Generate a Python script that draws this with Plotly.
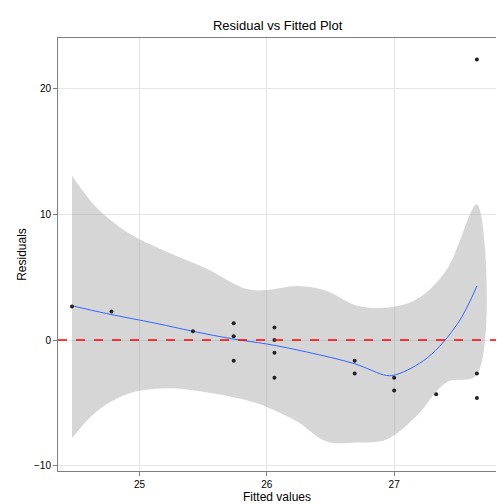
import plotly.graph_objects as go

# observed points
fitted = [24.47, 24.78, 25.42, 25.74, 25.74, 25.74, 26.06, 26.06, 26.06, 26.06,
          26.69, 26.69, 27.0, 27.0, 27.33, 27.65, 27.65, 27.65]
resid = [2.66, 2.27, 0.7, 1.33, 0.31, -1.64, 1.0, 0.0, -1.0, -3.0,
         -1.64, -2.66, -3.0, -4.0, -4.3, 22.3, -2.66, -4.6]

# loess smooth
smooth_x = [24.47, 24.74, 25.13, 25.42, 25.74, 26.0, 26.31, 26.69, 26.94, 27.02, 27.26, 27.50, 27.65]
smooth_y = [2.73, 2.11, 1.33, 0.70, 0.08, -0.31, -0.94, -1.88, -2.81, -2.73, -1.41, 1.33, 4.3]

# confidence band
band_x = [24.47, 24.66, 24.9, 25.21, 25.52, 25.84, 26.0, 26.24, 26.47, 26.71, 26.94, 27.17, 27.41, 27.65]
band_hi = [13.05, 10.55, 8.59, 7.03, 5.70, 4.06, 3.98, 4.30, 3.91, 2.73, 2.58, 3.2, 5.55, 10.78]
band_lo = [-7.8, -5.7, -4.3, -3.83, -4.14, -4.77, -5.31, -6.48, -8.05, -8.13, -7.89, -6.09, -3.36, -2.73]

fig = go.Figure()
fig.add_trace(go.Scatter(x=band_x + band_x[::-1], y=band_hi + band_lo[::-1], fill="toself",
                         fillcolor="rgba(153,153,153,0.4)", line=dict(width=0, shape="spline"),
                         mode="lines", hoverinfo="skip"))
fig.add_trace(go.Scatter(x=smooth_x, y=smooth_y, mode="lines", line=dict(color="#3366FF", width=1, shape="spline")))
fig.add_trace(go.Scatter(x=fitted, y=resid, mode="markers", marker=dict(color="#222222", size=4)))
fig.add_hline(y=0, line=dict(color="red", dash="dash", width=1.5))

axis = dict(showline=True, mirror=True, linecolor="#7f7f7f", linewidth=1, gridcolor="#e5e5e5",
            zeroline=False, ticks="outside", ticklen=4, tickcolor="#7f7f7f",
            tickfont=dict(size=10, color="black"))
fig.update_xaxes(axis, range=[24.36, 27.8], tickvals=[25, 26, 27],
                 title=dict(text="Fitted values", standoff=2, font=dict(size=12)))
fig.update_yaxes(axis, range=[-10.4, 24.0], tickvals=[-10, 0, 10, 20],
                 title=dict(text="Residuals", standoff=4, font=dict(size=12)))
fig.update_layout(width=504, height=504, showlegend=False, plot_bgcolor="white", paper_bgcolor="white",
                  font=dict(family="Liberation Sans, Arial", size=12, color="black"),
                  title=dict(text="Residual vs Fitted Plot", x=0.535, y=0.975, font=dict(size=13)),
                  margin=dict(l=50, r=16, t=30, b=34))
fig.write_html("out.html")
